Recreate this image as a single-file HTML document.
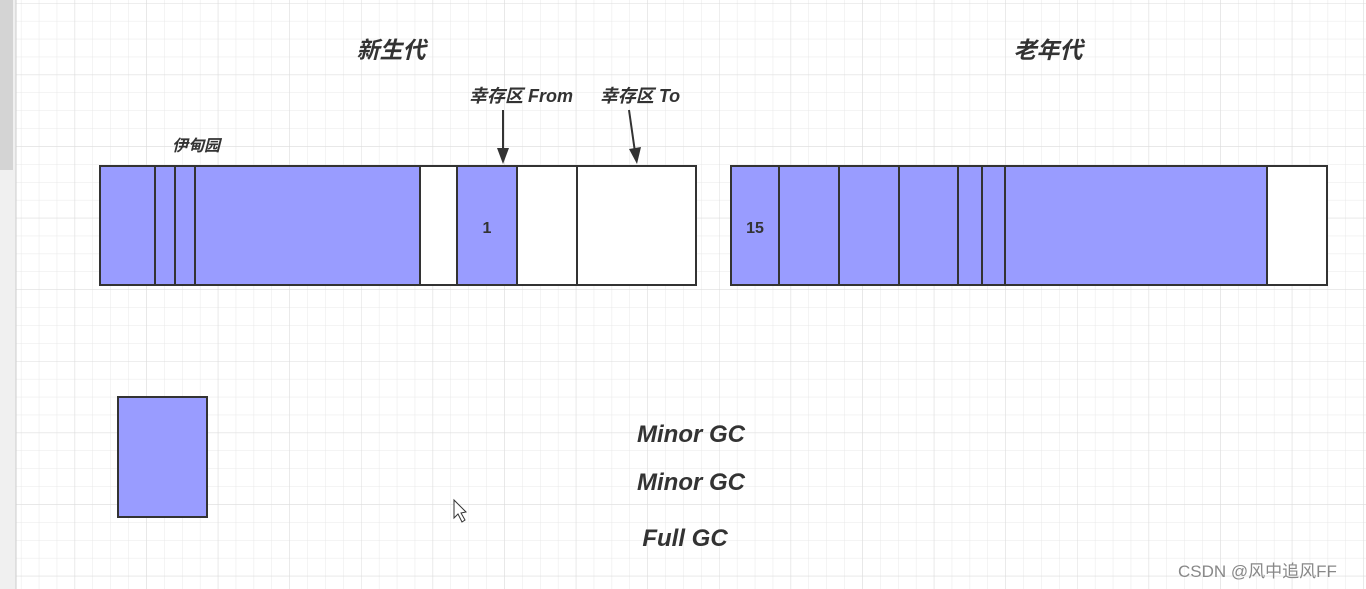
<!DOCTYPE html>
<html><head><meta charset="utf-8"><style>
html,body{margin:0;padding:0;width:1366px;height:589px;overflow:hidden;background:#fff}
svg{display:block}
text{font-family:"Liberation Sans","Noto Sans CJK SC",sans-serif;font-weight:bold;fill:#333}
</style></head><body>
<svg width="1366" height="589" viewBox="0 0 1366 589" xmlns="http://www.w3.org/2000/svg">
<defs>
<pattern id="g" x="3.5" y="3.5" width="17.9" height="17.9" patternUnits="userSpaceOnUse"><path d="M17.9 0V17.9M0 17.9H17.9" stroke="#e8e8e8" stroke-width="1" fill="none"/></pattern>
<pattern id="G" x="3.5" y="3.5" width="71.6" height="71.6" patternUnits="userSpaceOnUse"><path d="M71.6 0V71.6M0 71.6H71.6" stroke="#dcdcdc" stroke-width="1" fill="none"/></pattern>
</defs>
<rect x="16" y="0" width="1350" height="589" fill="url(#g)"/>
<rect x="16" y="0" width="1350" height="589" fill="url(#G)"/>
<rect x="0" y="0" width="16" height="589" fill="#f0f0f0"/>
<rect x="0" y="0" width="13" height="170" fill="#d4d4d4"/>
<line x1="16" y1="0" x2="16" y2="589" stroke="#ccc"/>
<g stroke="#333" stroke-width="2">
<rect x="100" y="166" width="596" height="119" fill="#fff"/>
<rect x="100" y="166" width="320" height="119" fill="#999cff"/>
<rect x="457" y="166" width="60" height="119" fill="#999cff"/>
<path d="M155 166V285M175 166V285M195 166V285M420 166V285M457 166V285M517 166V285M577 166V285"/>
<rect x="731" y="166" width="596" height="119" fill="#fff"/>
<rect x="731" y="166" width="536" height="119" fill="#999cff"/>
<path d="M779 166V285M839 166V285M899 166V285M958 166V285M982 166V285M1005 166V285M1267 166V285"/>
<rect x="118" y="397" width="89" height="120" fill="#999cff"/>
<line x1="503" y1="110" x2="503" y2="152"/>
<line x1="629" y1="110" x2="635" y2="152"/>
</g>
<path d="M497 148 L509 148 L503 164z" fill="#333"/>
<path d="M629 149 L641 147 L637 164z" fill="#333"/>
<text x="391" y="58" font-size="23" font-style="italic" text-anchor="middle">新生代</text>
<text x="1048" y="58" font-size="23" font-style="italic" text-anchor="middle">老年代</text>
<text x="196" y="151" font-size="16" font-style="italic" text-anchor="middle">伊甸园</text>
<text x="521" y="102" font-size="18" font-style="italic" text-anchor="middle">幸存区 From</text>
<text x="640" y="102" font-size="18" font-style="italic" text-anchor="middle">幸存区 To</text>
<text x="487" y="233" font-size="16" text-anchor="middle">1</text>
<text x="755" y="233" font-size="16" text-anchor="middle">15</text>
<text x="691" y="442" font-size="24" font-style="italic" text-anchor="middle">Minor GC</text>
<text x="691" y="490" font-size="24" font-style="italic" text-anchor="middle">Minor GC</text>
<text x="685" y="546" font-size="24" font-style="italic" text-anchor="middle">Full GC</text>
<path d="M454 500 L454 518 L458 514 L462 522 L465 520 L461 513 L466 512z" fill="#fff" stroke="#333" stroke-width="1"/>
<text x="1178" y="577" font-size="17" style="font-weight:normal;fill:#888">CSDN @风中追风FF</text>
</svg>
</body></html>
